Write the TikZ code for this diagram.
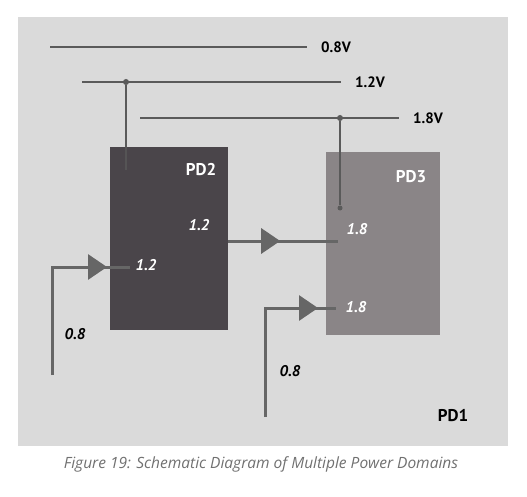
\documentclass[tikz,border=0pt]{standalone}
\usepackage{fontspec}
\setmainfont{Open Sans}
\newfontfamily\lblfont{PT Sans}
\usetikzlibrary{arrows.meta,decorations.markings}
\definecolor{panelgray}{HTML}{DADADA}
\definecolor{darkdom}{HTML}{4A454A}
\definecolor{middom}{HTML}{8A8587}
\definecolor{railgray}{HTML}{5A5A5A}
\definecolor{feedgray}{HTML}{666666}
\definecolor{capgray}{HTML}{707070}
\begin{document}
\begin{tikzpicture}[x=1pt,y=-1pt,
  domain/.style={draw=none,rectangle,minimum width=#1,minimum height=183pt,inner sep=0pt},
  rail/.style={draw=railgray,line width=2pt},
  feed/.style={draw=feedgray,line width=3pt},
  tap/.style={draw=railgray,line width=1.6pt},
  joint/.style={circle,fill=railgray,inner sep=0pt,minimum size=6pt},
  railtag/.style={font=\lblfont\bfseries\fontsize{15}{15}\selectfont,anchor=west,inner sep=0pt},
  domtag/.style={font=\lblfont\bfseries\fontsize{17}{17}\selectfont,text=white,inner sep=0pt},
  valtag/.style={font=\lblfont\bfseries\itshape\fontsize{15.5}{15.5}\selectfont,text=white,inner sep=0pt},
  srctag/.style={font=\lblfont\bfseries\itshape\fontsize{15.5}{15.5}\selectfont,text=black,inner sep=0pt},
  buffer at/.style={postaction={decorate},decoration={markings,
    mark=at position #1 with {\arrow[feedgray]{Triangle[length=19pt,width=25pt]}}}}
]
\useasboundingbox (0,0) rectangle (527,497);
% background panel (domain PD1)
\fill[panelgray] (18,17) rectangle (508,446);

% supply rails
\coordinate (r08) at (50,47);
\coordinate (r12) at (82,82);
\coordinate (r18) at (140,118);
\node[railtag] (v08) at (321,47) {0.8V};
\node[railtag] (v12) at (355,82) {1.2V};
\node[railtag] (v18) at (413,118) {1.8V};
\draw[rail] (r08) -- ([xshift=-14pt]v08.west);
\draw[rail] (r12) -- ([xshift=-14pt]v12.west);
\draw[rail] (r18) -- ([xshift=-14pt]v18.west);

% power domains
\node[domain=118pt,fill=darkdom] (pd2) at (169,238.5) {};
\node[domain=114pt,fill=middom] (pd3) at (383,243.5) {};
\node[domtag] (pd2name) at (201,170) {PD2};
\node[domtag] (pd3name) at (411,177) {PD3};
\node[srctag,font=\lblfont\bfseries\fontsize{17}{17}\selectfont] (pd1name) at (453,416) {PD1};

% rail taps
\node[joint] (j12) at (126,82) {};
\node[joint] (j18) at (340,118) {};
\coordinate (t12) at (126,170);
\node[joint,minimum size=5pt] (t18) at (340,208) {};
\draw[tap] (j12) -- (126,147);
\draw[draw=railgray!70!darkdom,line width=1.6pt] (126,147) -- (t12);
\draw[tap] (j18) -- (t18);

% level-shifted signals
\coordinate (s1) at (52,375);
\coordinate (e1) at (130,267);
\draw[feed,buffer at=163pt] (s1) |- (e1);
\coordinate (s2) at (265,417);
\coordinate (e2) at (336,308);
\draw[feed,buffer at=162pt] (s2) |- (e2);
\coordinate (e3) at (338,241);
\draw[feed,buffer at=52pt] (pd2.east |- e3) -- (e3);

% voltage labels
\node[valtag] (o12) at (199,225) {1.2};
\node[valtag] (i12) at (146,265) {1.2};
\node[valtag] (i18a) at (357,229) {1.8};
\node[valtag] (i18b) at (356,307) {1.8};
\node[srctag] (src1) at (75,334) {0.8};
\node[srctag] (src2) at (290,371) {0.8};

% caption
\node[font=\itshape\fontsize{15.5}{15.5}\selectfont,text=capgray] (cap) at (261,464)
  {Figure 19: Schematic Diagram of Multiple Power Domains};
\end{tikzpicture}
\end{document}
